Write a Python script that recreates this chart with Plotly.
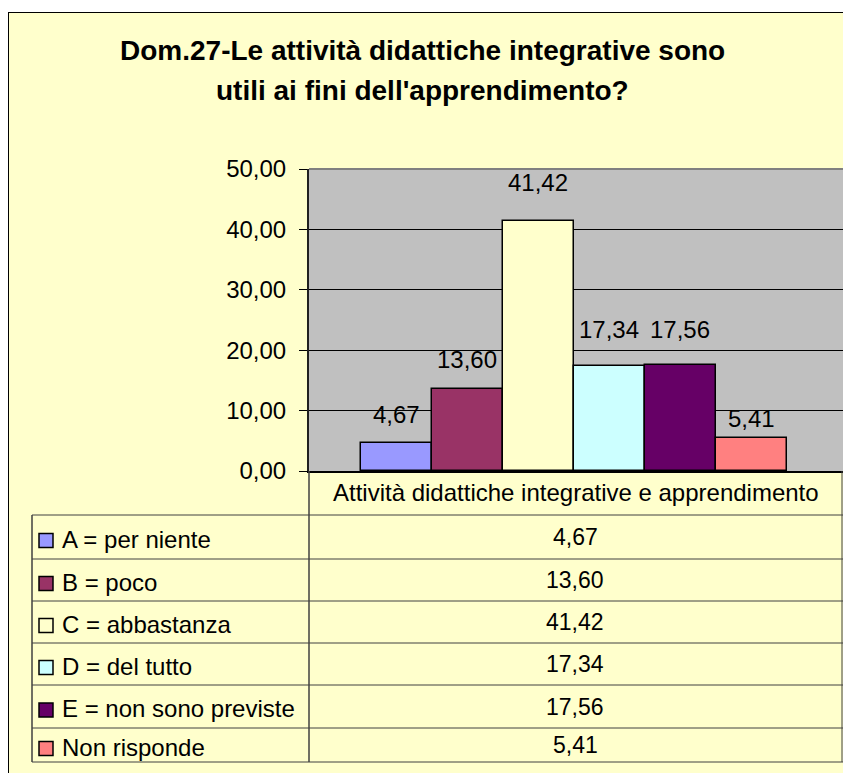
import plotly.graph_objects as go

# ---- data ----
categories = ["A = per niente", "B = poco", "C = abbastanza", "D = del tutto",
              "E = non sono previste", "Non risponde"]
values = [4.67, 13.60, 41.42, 17.34, 17.56, 5.41]
colors = ["#9999FF", "#993366", "#FFFFCC", "#CCFFFF", "#660066", "#FF8080"]
group_label = "Attività didattiche integrative e apprendimento"
title_lines = ["Dom.27-Le attività didattiche integrative sono",
               "utili ai fini dell'apprendimento?"]
y_ticks = [0, 10, 20, 30, 40, 50]

# ---- style / layout (pixels) ----
label_shift_px = [28, 29, 38, 37, 35, 20]   # data-label offset above each bar
W, H = 843, 773
FONT = "Liberation Sans, Arial, sans-serif"
PL, PR, PT, PB = 309, 843, 169, 471          # plot area
TL = 32                                       # table left edge
row_lines = [515, 559, 601, 643, 685, 728, 762]


def X(px):
    return px / W


def Y(py):
    return 1 - py / H


fig = go.Figure()
fig.add_trace(go.Bar(
    x=categories, y=values,
    marker=dict(color=colors, line=dict(color="black", width=1.5)),
    width=1.0, showlegend=False, hoverinfo="x+y",
))

shapes = []
annotations = []

# white outside the chart frame, and frame lines
shapes.append(dict(type="rect", xref="paper", yref="paper",
                   x0=0, x1=X(8), y0=0, y1=1, fillcolor="white",
                   line=dict(width=0), layer="above"))
shapes.append(dict(type="rect", xref="paper", yref="paper",
                   x0=0, x1=1, y0=Y(12), y1=1, fillcolor="white",
                   line=dict(width=0), layer="above"))
shapes.append(dict(type="line", xref="paper", yref="paper",
                   x0=X(8.5), x1=X(8.5), y0=0, y1=Y(12),
                   line=dict(color="black", width=1)))
shapes.append(dict(type="line", xref="paper", yref="paper",
                   x0=X(8), x1=1, y0=Y(12.5), y1=Y(12.5),
                   line=dict(color="black", width=1)))

# plot-area top border (grey)
shapes.append(dict(type="line", xref="paper", yref="paper",
                   x0=X(PL), x1=1, y0=Y(PT), y1=Y(PT),
                   line=dict(color="#808080", width=2)))

# table lines
LC = "#404040"
for ly in row_lines:
    shapes.append(dict(type="line", xref="paper", yref="paper",
                       x0=X(TL), x1=X(PR), y0=Y(ly), y1=Y(ly),
                       line=dict(color=LC, width=1)))
shapes.append(dict(type="line", xref="paper", yref="paper",
                   x0=X(TL), x1=X(TL), y0=Y(row_lines[0]), y1=Y(row_lines[-1]),
                   line=dict(color=LC, width=1.5)))
shapes.append(dict(type="line", xref="paper", yref="paper",
                   x0=X(PL), x1=X(PL), y0=Y(PB), y1=Y(row_lines[-1]),
                   line=dict(color=LC, width=1.5)))
shapes.append(dict(type="line", xref="paper", yref="paper",
                   x0=X(PR - 1), x1=X(PR - 1), y0=Y(PB), y1=Y(row_lines[-1]),
                   line=dict(color=LC, width=1)))

# title
for txt, cy in zip(title_lines, [51, 90]):
    annotations.append(dict(text="<b>" + txt + "</b>", xref="paper", yref="paper",
                            x=X(422), y=Y(cy), xanchor="center", yanchor="middle",
                            showarrow=False,
                            font=dict(size=28, color="black", family=FONT)))

# data labels above bars
for cat, v, dy in zip(categories, values, label_shift_px):
    annotations.append(dict(text=f"{v:.2f}".replace(".", ","), x=cat, y=v,
                            xref="x", yref="y", xanchor="center",
                            yanchor="middle", yshift=dy, showarrow=False,
                            font=dict(size=24, color="black", family=FONT)))

# table header cell
annotations.append(dict(text=group_label, xref="paper", yref="paper",
                        x=X((PL + PR) / 2), y=Y((PB + row_lines[0]) / 2),
                        xanchor="center", yanchor="middle", showarrow=False,
                        font=dict(size=24, color="black", family=FONT)))

# table rows (legend key + name + value)
for i, (name, v, col) in enumerate(zip(categories, values, colors)):
    top, bot = row_lines[i], row_lines[i + 1]
    cy = (top + bot) / 2
    shapes.append(dict(type="rect", xref="paper", yref="paper",
                       x0=X(39), x1=X(53), y0=Y(cy + 10.5), y1=Y(cy - 3.5),
                       fillcolor=col, line=dict(color="black", width=1.5)))
    annotations.append(dict(text=name, xref="paper", yref="paper",
                            x=X(60), y=Y(cy + 2), xanchor="left", yanchor="middle",
                            showarrow=False,
                            font=dict(size=24, color="black", family=FONT)))
    annotations.append(dict(text=f"{v:.2f}".replace(".", ","),
                            xref="paper", yref="paper",
                            x=X(575), y=Y(cy), xanchor="center",
                            yanchor="middle", showarrow=False,
                            font=dict(size=23, color="black", family=FONT)))

fig.update_layout(
    width=W, height=H, autosize=False,
    margin=dict(l=0, r=0, t=0, b=0, pad=0, autoexpand=False),
    paper_bgcolor="#FFFFCC", plot_bgcolor="#C0C0C0",
    separators=",.",
    bargap=0,
    font=dict(family=FONT, color="black"),
    shapes=shapes, annotations=annotations,
    xaxis=dict(domain=[X(PL), X(PR)], range=[-1.232, 6.289],
               showticklabels=False, ticks="", automargin=False,
               showline=True, linecolor="black", linewidth=2,
               showgrid=False, zeroline=False, fixedrange=True),
    yaxis=dict(domain=[Y(PB), Y(PT)], range=[0, 50], tickvals=y_ticks,
               tickformat=".2f", ticks="outside", ticklen=8, automargin=False,
               tickcolor="black", tickwidth=1, showline=True,
               linecolor="#202020", linewidth=2,
               showgrid=True, gridcolor="black", gridwidth=1,
               zeroline=False, tickfont=dict(size=24, color="black", family=FONT),
               ticklabelstandoff=8, fixedrange=True),
)

fig.write_html("out.html", config={"displayModeBar": False},
               post_script="document.body.style.margin='0';")
